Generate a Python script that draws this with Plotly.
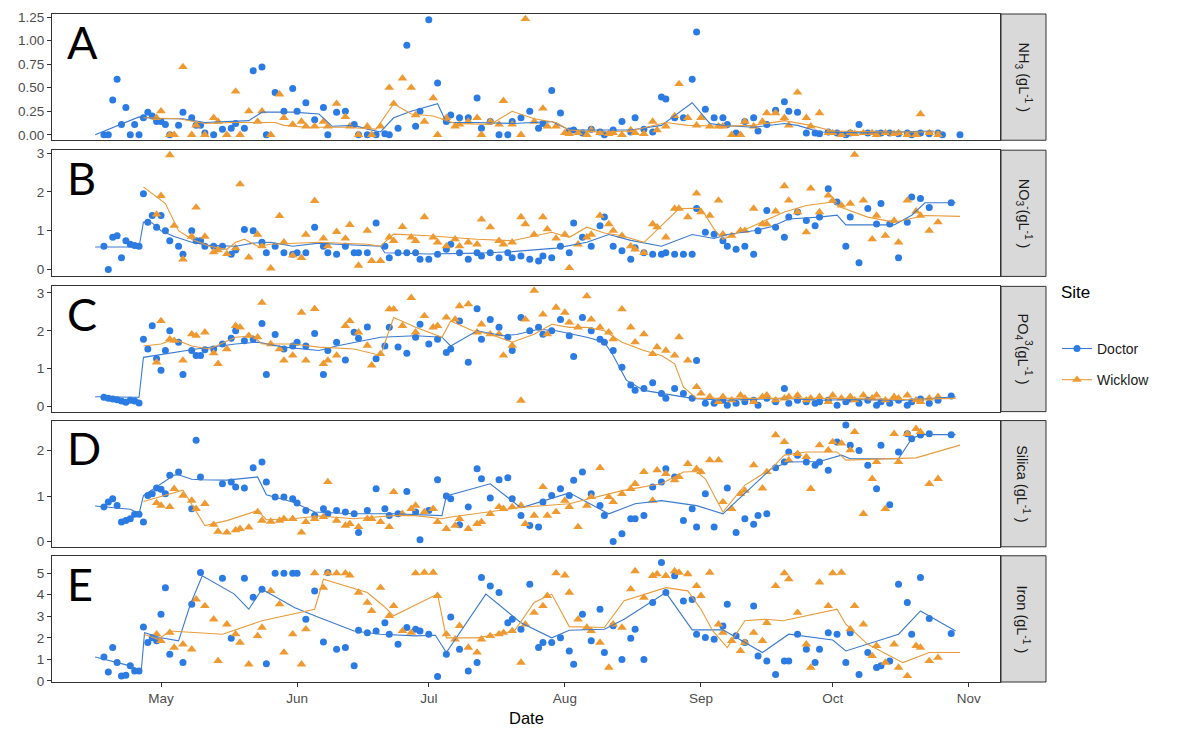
import plotly.graph_objects as go
from datetime import datetime, timedelta

BASE = datetime(2018, 5, 1)

# ---------------- sampling days (days from 1 May) ----------------
doctor_days = [
    -13, -12, -11, -10, -9, -8, -7, -6, -5, -4,
    -3, -2, -1, 0, 1, 2, 4, 5, 7, 8,
    9, 10, 12, 14, 16, 17, 19, 21, 23, 24,
    26, 28, 30, 31, 33, 35, 37, 38, 40, 42,
    44, 45, 47, 49, 51, 52, 54, 56, 58, 59,
    61, 63, 65, 66, 68, 70, 72, 73, 75, 77,
    79, 80, 82, 84, 86, 87, 89, 91, 93, 94,
    96, 98, 100, 101, 103, 105, 107, 108, 110, 112,
    114, 115, 117, 119, 121, 122, 124, 126, 128, 129,
    131, 133, 135, 136, 138, 140, 142, 143, 145, 147,
    149, 150, 152, 154, 156, 157, 159, 161, 163, 164,
    166, 168, 170, 171, 173, 175, 177, 178, 180, 182,
]
wicklow_days = [
    -4, -3, -1, 0, 2, 3, 5, 7, 8, 10,
    12, 13, 15, 17, 18, 20, 22, 23, 25, 27,
    28, 30, 32, 33, 35, 37, 38, 40, 42, 43,
    45, 47, 48, 50, 52, 53, 55, 57, 58, 60,
    62, 63, 65, 67, 68, 70, 72, 73, 75, 77,
    78, 80, 82, 83, 85, 87, 88, 90, 92, 93,
    95, 97, 98, 100, 102, 103, 105, 107, 108, 110,
    112, 113, 115, 117, 118, 120, 122, 123, 125, 127,
    128, 130, 132, 133, 135, 137, 138, 140, 142, 143,
    145, 147, 148, 150, 152, 153, 155, 157, 158, 160,
    162, 163, 165, 167, 168, 170, 172, 173, 175, 177,
]

# ---------------- NH3 ----------------
nh3_doctor = [
    0.0, 0.0, 0.37, 0.59, 0.11, 0.29, 0.0, 0.11, 0.0, 0.18,
    0.24, 0.2, 0.14, 0.14, 0.11, 0.0, 0.1, 0.24, 0.18, 0.1,
    0.1, 0.02, 0.0, 0.06, 0.07, 0.12, 0.07, 0.68, 0.72, 0.0,
    0.45, 0.25, 0.49, 0.25, 0.34, 0.16, 0.29, 0.0, 0.24, 0.25,
    0.11, 0.0, 0.0, 0.0, 0.01, 0.0, 0.07, 0.95, 0.09, 0.25,
    1.22, 0.55, 0.14, 0.21, 0.18, 0.18, 0.39, 0.07, 0.14, 0.0,
    0.0, 0.14, 0.18, 0.25, 0.07, 0.12, 0.47, 0.23, 0.04, 0.05,
    0.02, 0.06, 0.03, 0.0, 0.05, 0.14, 0.03, 0.18, 0.06, 0.03,
    0.4, 0.38, 0.18, 0.18, 0.59, 1.09, 0.27, 0.18, 0.18, 0.11,
    0.02, 0.14, 0.18, 0.04, 0.11, 0.26, 0.35, 0.25, 0.24, 0.02,
    0.02, 0.01, 0.03, 0.02, 0.0, 0.02, 0.11, 0.02, 0.01, 0.02,
    0.02, 0.01, 0.02, 0.0, 0.02, 0.01, 0.02, 0.0, None, 0.0,
]
nh3_wicklow = [
    None, None, 0.18, 0.25, 0.0, 0.0, 0.72, 0.0, 0.1, 0.0,
    0.18, 0.14, 0.0, 0.46, 0.0, 0.25, 0.14, 0.25, 0.0, 0.43,
    0.18, 0.11, 0.14, 0.09, 0.09, 0.14, 0.09, 0.33, 0.19, 0.09,
    0.0, 0.09, 0.0, 0.09, 0.5, 0.33, 0.6, 0.5, 0.21, 0.14,
    0.39, 0.0, 0.18, 0.09, 0.11, 0.14, 0.18, 0.0, 0.14, 0.11,
    0.36, 0.11, 0.0, 1.23, 0.14, 0.28, 0.09, 0.09, 0.02, 0.01,
    0.02, 0.0, 0.05, 0.02, 0.01, 0.02, 0.0, 0.05, 0.02, 0.01,
    0.14, 0.05, 0.09, 0.2, 0.54, 0.18, 0.1, 0.18, 0.09, 0.09,
    0.09, 0.0, 0.0, 0.14, 0.09, 0.14, 0.23, 0.23, 0.18, 0.1,
    0.45, 0.18, 0.09, 0.23, 0.02, 0.02, 0.0, 0.02, 0.01, 0.02,
    0.02, 0.0, 0.02, 0.01, 0.02, 0.0, 0.0, 0.22, 0.02, 0.0,
]
nh3_doctor_trend_days = [-15, -5, 0, 5, 10, 20, 21, 23, 30, 36, 39, 44, 47, 50, 53, 57, 63, 65, 72, 80,
                         89, 93, 107, 114, 121, 125, 128, 135, 142, 145, 150, 160, 176]
nh3_doctor_trend = [0.0, 0.19, 0.17, 0.17, 0.13, 0.15, 0.18, 0.24, 0.24, 0.22, 0.09, 0.1, 0.06, 0.03, 0.18,
                    0.25, 0.33, 0.13, 0.13, 0.12, 0.14, 0.05, 0.05, 0.1, 0.34, 0.12, 0.1, 0.08, 0.12, 0.1,
                    0.03, 0.02, 0.04]
nh3_wicklow_trend_days = [-4, 4, 10, 16, 21, 26, 28, 33, 42, 49, 53, 57, 62, 67, 75, 80, 85, 90, 93, 100,
                          107, 115, 120, 128, 135, 142, 148, 153, 165, 178]
nh3_wicklow_trend = [0.18, 0.17, 0.12, 0.13, 0.13, 0.13, 0.1, 0.08, 0.08, 0.06, 0.33, 0.22, 0.2, 0.12, 0.11,
                     0.25, 0.17, 0.13, 0.05, 0.03, 0.04, 0.13, 0.1, 0.09, 0.1, 0.15, 0.1, 0.04, 0.03, 0.03]

# ---------------- NO3 ----------------
no3_doctor = [
    0.6, 0.0, 0.83, 0.87, 0.3, 0.74, 0.65, 0.62, 0.6, 1.95,
    1.22, 1.39, 1.09, 1.39, 1.0, 0.74, 0.6, 0.39, 1.0, 0.74,
    0.74, 0.6, 0.6, 0.6, 0.39, 0.5, 1.03, 1.0, 0.7, 0.43,
    0.6, 0.43, 0.39, 0.43, 0.43, 1.09, 0.6, 0.43, 0.39, 0.6,
    0.43, 0.43, 0.43, 1.2, 0.6, 0.3, 0.43, 0.43, 0.43, 0.26,
    0.26, 0.39, 0.52, 0.65, 0.43, 0.26, 0.43, 0.35, 0.43, 0.3,
    0.43, 0.3, 0.35, 0.26, 0.22, 0.35, 0.3, 0.6, 0.43, 1.2,
    0.83, 0.6, 1.13, 1.35, 0.6, 0.48, 0.26, 0.56, 0.43, 0.39,
    0.39, 0.43, 0.39, 0.39, 0.39, 1.57, 0.96, 0.91, 0.74, 0.6,
    0.52, 0.6, 0.39, 1.0, 1.52, 1.09, 0.83, 1.35, 1.48, 1.26,
    1.13, 1.35, 2.08, 1.74, 0.6, 1.35, 0.17, 1.57, 1.17, 1.7,
    1.17, 0.3, 1.22, 1.87, 1.83, 1.6, None, None, 1.72, None,
]
no3_wicklow = [
    None, None, 1.42, 1.9, 2.95, 1.13, 0.26, 0.85, 1.6, 0.85,
    0.45, 0.5, 0.4, 0.55, 2.2, 0.31, 0.9, 0.6, 0.03, 1.38,
    0.7, 0.36, 0.3, 0.9, 1.77, 0.8, 0.6, 0.97, 0.8, 1.15,
    0.1, 1.0, 0.22, 0.22, 0.83, 0.74, 1.1, 0.83, 0.74, 1.35,
    0.83, 0.7, 0.6, 0.78, 0.6, 0.7, 0.65, 1.29, 1.09, 0.74,
    0.65, 0.7, 1.35, 1.17, 0.9, 1.35, 1.04, 0.8, 0.9, 0.04,
    0.65, 0.83, 0.9, 1.39, 1.17, 1.0, 0.87, 0.6, 0.52, 0.43,
    1.17, 1.09, 0.83, 1.57, 1.57, 1.35, 1.96, 1.48, 1.39, 1.78,
    0.91, 0.87, 1.0, 1.0, 1.57, 1.17, 1.17, 1.5, 2.15, 1.78,
    1.48, 0.96, 2.09, 1.48, 1.91, 1.78, 1.65, 1.7, 2.96, 1.78,
    0.78, 1.39, 0.87, 1.26, 0.7, 1.78, 1.5, 1.39, 1.0, 1.22,
]
no3_doctor_trend_days = [-15, -5, -4, -2, 0, 3, 7, 11, 17, 21, 25, 30, 36, 40, 50, 51, 61, 72, 80, 90,
                         97, 102, 107, 114, 121, 126, 129, 135, 139, 143, 150, 154, 156, 167, 171, 174, 181]
no3_doctor_trend = [0.58, 0.58, 1.22, 1.2, 1.0, 0.85, 0.7, 0.62, 0.6, 0.68, 0.7, 0.6, 0.68, 0.65, 0.6,
                    0.43, 0.4, 0.42, 0.46, 0.55, 0.7, 0.9, 0.75, 0.6, 0.9, 0.8, 0.9, 1.0, 1.1, 1.3,
                    1.35, 1.4, 1.15, 1.15, 1.4, 1.72, 1.72]
no3_wicklow_trend_days = [-4, 1, 4, 7, 11, 15, 17, 19, 22, 25, 36, 47, 50, 53, 61, 72, 80, 85, 89, 93,
                          97, 101, 105, 110, 112, 118, 123, 126, 128, 135, 142, 147, 153, 155, 161, 167, 174, 182]
no3_wicklow_trend = [2.13, 1.7, 1.0, 0.78, 0.6, 0.52, 0.7, 0.78, 0.6, 0.65, 0.7, 0.65, 0.6, 0.91, 0.87,
                     0.78, 0.74, 0.87, 0.96, 0.83, 1.09, 0.94, 0.87, 0.7, 0.91, 1.57, 1.58, 1.04, 0.78,
                     1.13, 1.48, 1.65, 1.74, 1.6, 1.35, 1.22, 1.39, 1.37]

# ---------------- PO4 ----------------
po4_doctor = [
    0.25, 0.22, 0.2, 0.18, 0.15, 0.12, 0.17, 0.15, 0.1, 1.78,
    1.52, 2.13, 1.26, 0.96, 1.48, 2.0, 1.7, 0.85, 1.48, 1.35,
    1.35, 1.5, 1.52, 1.65, 1.8, 2.0, 1.74, 1.78, 2.19, 0.85,
    1.9, 1.52, 1.6, 1.7, 1.6, 1.93, 0.85, 1.48, 1.7, 1.23,
    1.96, 1.8, 2.1, 1.26, 1.6, 2.09, 1.57, 1.41, 1.83, 2.17,
    1.65, 1.78, 1.43, 1.52, 2.26, 1.17, 2.58, 1.78, 2.3, 2.09,
    1.83, 1.48, 2.35, 2.0, 2.09, 1.91, 2.0, 2.3, 1.87, 1.32,
    2.35, 2.0, 1.78, 1.7, 1.48, 1.04, 0.57, 0.43, 0.48, 0.63,
    0.35, 0.22, 0.48, 0.35, 0.22, 1.22, 0.09, 0.09, 0.17, 0.04,
    0.09, 0.13, 0.17, 0.04, 0.22, 0.13, 0.48, 0.09, 0.17, 0.13,
    0.09, 0.13, 0.17, 0.04, 0.13, 0.2, 0.09, 0.17, 0.04, 0.13,
    0.09, 0.17, 0.04, 0.13, 0.2, 0.09, 0.17, None, 0.28, None,
]
po4_wicklow = [
    None, None, 1.17, 2.26, 1.78, 1.74, 1.22, 1.91, 1.87, 1.96,
    1.41, 1.13, 1.52, 2.13, 2.09, 1.87, 1.83, 2.74, 1.65, 1.52,
    1.22, 1.35, 2.48, 1.22, 2.58, 1.13, 1.22, 1.35, 2.13, 2.26,
    1.96, 1.61, 1.09, 1.39, 2.57, 2.57, 2.13, 2.87, 1.96, 2.39,
    2.09, 2.13, 2.35, 2.3, 2.65, 2.7, 1.96, 2.17, 1.91, 1.91,
    1.35, 1.61, 0.16, 2.3, 3.06, 2.43, 1.91, 2.61, 2.48, 2.22,
    2.09, 2.91, 2.3, 2.09, 1.96, 1.78, 2.57, 2.09, 1.7, 1.91,
    1.39, 1.57, 1.48, 1.35, 1.83, 1.22, 0.52, 0.35, 0.26, 0.13,
    0.26, 0.17, 0.3, 0.22, 0.13, 0.26, 0.3, 0.17, 0.22, 0.26,
    0.3, 0.17, 0.22, 0.26, 0.13, 0.3, 0.22, 0.26, 0.17, 0.3,
    0.22, 0.3, 0.17, 0.26, 0.22, 0.3, 0.17, 0.13, 0.22, 0.26,
]
po4_doctor_trend_days = [-15, -5, -4, 1, 8, 17, 22, 28, 36, 40, 50, 58, 64, 66, 72, 78, 81, 86, 90, 97,
                         101, 103, 106, 110, 114, 121, 128, 142, 150, 158, 169, 181]
po4_doctor_trend = [0.26, 0.25, 1.3, 1.39, 1.52, 1.65, 1.7, 1.57, 1.48, 1.6, 1.83, 1.87, 1.83, 1.6, 2.0,
                    1.87, 1.9, 2.04, 2.0, 1.83, 1.7, 1.35, 0.7, 0.43, 0.35, 0.22, 0.17, 0.22, 0.17, 0.19,
                    0.17, 0.26]
po4_wicklow_trend_days = [-4, 0, 3, 7, 11, 17, 21, 23, 30, 36, 44, 50, 53, 58, 64, 66, 71, 75, 80, 85,
                          89, 93, 97, 101, 105, 110, 114, 117, 119, 122, 128, 142, 155, 169, 181]
po4_wicklow_trend = [1.6, 1.65, 1.78, 1.6, 1.52, 1.83, 1.87, 1.65, 1.65, 1.57, 1.52, 1.35, 2.35, 2.09,
                     1.83, 2.26, 2.0, 1.91, 1.7, 1.91, 2.17, 2.09, 2.09, 2.0, 1.7, 1.48, 1.35, 1.13,
                     0.52, 0.22, 0.22, 0.22, 0.22, 0.19, 0.22]

# ---------------- Silica ----------------
silica_doctor = [
    0.76, 0.87, 0.94, 0.79, 0.43, 0.46, 0.5, 0.6, 0.6, 0.43,
    1.01, 1.05, 1.18, 1.15, 1.05, 1.46, 1.53, None, 0.72, 2.23,
    1.42, None, None, 1.27, 1.31, 1.2, 1.18, 1.62, 1.75, 1.31,
    0.98, 0.98, 0.94, 0.85, 0.68, 0.57, 0.72, 0.61, 0.68, 0.65,
    0.61, 0.2, 0.68, 1.16, 0.72, 0.57, 0.61, 1.1, 0.65, 0.04,
    0.68, 1.36, 1.0, 0.94, 0.37, 0.76, 1.6, 1.38, 0.96, 1.36,
    1.4, 0.94, 0.57, 0.35, 0.32, 0.87, 1.01, 1.16, 1.01, 1.35,
    1.53, 1.05, 0.79, 0.57, 0.0, 0.17, 0.5, 0.5, 0.57, 1.2,
    1.31, 1.6, 1.42, 0.46, 0.72, 0.32, 1.05, 0.32, None, 1.18,
    0.2, 0.5, 0.38, 0.57, 0.61, 1.62, 1.75, 1.97, 1.9, 1.75,
    1.68, 1.75, 1.57, 2.19, 2.56, 2.12, 2.0, 1.68, 1.16, 2.12,
    0.81, 1.97, 2.37, 2.26, 2.34, 2.37, None, None, 2.35, None,
]
silica_wicklow = [
    None, None, 0.85, 0.79, 0.76, 1.16, 1.01, 0.9, 0.72, 0.83,
    0.37, 0.22, 0.2, 0.25, 0.28, 0.31, 0.65, 0.46, 0.44, 0.46,
    0.5, 0.5, 0.2, 0.43, 0.5, 0.54, 1.31, 0.46, 0.35, 0.39,
    0.32, 0.5, 0.5, 0.43, 0.32, 1.09, 0.61, 0.72, 0.79, 0.65,
    0.72, 0.43, 0.28, 0.35, 0.5, 0.28, 0.39, 0.43, 0.61, 0.76,
    0.72, 0.76, 0.79, 0.39, 0.57, 1.2, 0.57, 0.65, 0.9, 0.76,
    0.32, 0.79, 0.98, 1.62, 0.98, 0.87, 1.05, 1.16, 1.27, 1.53,
    0.9, 1.57, 1.49, 1.35, 1.42, 1.71, 1.6, 1.53, 1.79, 1.79,
    0.87, 0.72, 1.05, 1.12, 1.68, 1.17, 1.53, 2.34, 2.19, 1.79,
    1.93, 1.86, 1.16, 2.12, 2.01, 2.19, 2.16, 2.01, 2.41, 0.61,
    1.38, 1.75, 0.72, 2.37, 1.75, 2.37, 2.48, 2.41, 1.27, 1.38,
]
silica_doctor_trend_days = [-15, -7, -5, -4, 3, 4, 7, 9, 15, 22, 24, 30, 35, 44, 53, 64, 65, 75, 82, 93,
                            102, 108, 114, 122, 128, 133, 139, 143, 150, 155, 157, 168, 171, 173, 181]
silica_doctor_trend = [0.78, 0.71, 0.61, 1.01, 1.46, 1.47, 1.37, 1.36, 1.35, 1.42, 1.03, 0.87, 0.65, 0.61,
                       0.61, 0.57, 1.0, 1.27, 0.74, 1.07, 0.61, 0.83, 0.9, 0.79, 0.61, 1.05, 1.6, 1.75,
                       1.76, 1.9, 1.82, 1.82, 2.26, 2.35, 2.35]
silica_wicklow_trend_days = [-4, 2, 5, 10, 15, 22, 24, 30, 36, 44, 53, 58, 64, 66, 75, 83, 93, 99, 105, 114,
                             119, 122, 124, 128, 133, 139, 142, 147, 154, 156, 172, 182]
silica_wicklow_trend = [0.88, 1.05, 1.13, 0.35, 0.46, 0.68, 0.48, 0.5, 0.56, 0.5, 0.57, 0.57, 0.5, 0.54,
                        0.65, 0.76, 0.83, 0.98, 1.12, 1.27, 1.53, 1.54, 1.38, 0.65, 1.24, 1.6, 1.9, 1.97,
                        1.97, 1.79, 1.84, 2.12]

# ---------------- Iron ----------------
iron_doctor = [
    1.11, 0.42, 1.55, 0.85, 0.23, 0.26, 0.7, 0.46, 0.46, 2.5,
    1.78, 2.0, 1.86, 3.1, 4.33, 1.24, None, 0.85, 3.56, None,
    5.03, None, None, 4.77, 1.98, None, 4.77, 3.88, 4.26, 0.8,
    5.0, 5.0, 5.0, 5.0, 2.86, 4.18, 1.81, 5.03, 1.47, 1.55,
    0.7, 2.35, 2.24, 2.32, 2.7, 2.17, 1.7, 2.48, 2.4, 2.32,
    2.17, 0.2, 1.24, 2.97, 1.47, 0.46, 0.85, 4.8, 4.41, 4.1,
    2.7, 2.86, 2.4, 4.49, 1.55, 1.78, 1.78, 2.0, 1.39, 0.77,
    3.1, 1.86, 3.33, 1.32, 2.56, 1.0, 1.98, 2.4, 1.0, 3.64,
    5.5, 4.1, 4.88, 3.71, 3.78, 2.17, 2.01, 1.93, 2.55, 3.56,
    2.1, 1.78, 3.48, 1.16, 0.93, 0.3, 0.93, 0.93, 2.17, 1.47,
    0.85, 1.47, 2.24, 2.17, 0.85, 2.24, 0.3, 1.32, 0.62, 0.7,
    0.93, 4.49, 3.64, 2.17, 4.8, 2.9, None, None, 2.2, None,
]
iron_wicklow = [
    None, None, 2.17, 1.86, 2.24, 1.55, 1.7, 1.47, 3.79, 3.48,
    2.86, 0.93, 2.63, 2.17, 1.78, 0.77, 2.09, 2.48, 4.18, 3.56,
    1.32, 2.17, 0.77, 2.4, 5.0, 4.33, 5.0, 5.0, 5.0, 4.9,
    4.1, 3.64, 3.25, 4.33, 3.02, 3.48, 2.32, 2.24, 5.0, 5.03,
    5.03, 3.95, 2.17, 1.93, 2.56, 1.55, 1.32, 1.93, 2.09, 2.17,
    2.24, 2.32, 0.85, 2.63, 3.17, 3.48, 3.95, 5.0, 4.9, 4.1,
    2.86, 2.48, 2.32, 1.78, 0.62, 2.63, 2.48, 4.26, 5.1, 3.87,
    4.88, 4.96, 4.88, 5.1, 5.03, 4.96, 4.41, 3.95, 5.03, 2.63,
    2.24, 1.86, 1.39, 1.78, 2.24, 1.86, 2.7, 4.41, 5.0, 4.72,
    3.17, 1.7, 0.62, 4.57, 3.48, 5.0, 5.03, 2.4, 3.48, 2.63,
    1.16, 1.63, 0.85, 1.7, 0.62, 0.23, 1.63, 1.55, 0.93, 1.08,
]
iron_doctor_trend_days = [-15, -7, -4.5, -3.75, 0, 4, 6.7, 9.4, 16.7, 20, 23, 30.5, 36, 44, 50, 58, 62.5,
                          65, 74, 82, 89, 93, 101, 105.5, 115, 121, 128, 137, 143, 153, 156, 164, 168, 173, 181]
iron_doctor_trend = [1.11, 0.7, 0.46, 2.24, 2.0, 1.86, 3.56, 4.88, 4.03, 3.33, 4.26, 3.4, 2.94, 2.32, 2.17,
                     2.09, 2.12, 1.32, 4.03, 2.7, 2.0, 2.35, 2.4, 2.86, 4.1, 2.37, 2.37, 1.32, 2.17, 1.9,
                     1.39, 1.93, 2.17, 3.25, 2.32]
iron_wicklow_trend_days = [-3.9, -0.7, 2, 8, 14, 23, 35, 37, 47, 50.7, 53, 63, 65, 72, 80.5, 85, 89, 93, 101,
                           105.5, 115, 120, 123, 125.7, 129, 133, 137.5, 141.7, 154, 156, 161, 169, 175, 182]
iron_wicklow_trend = [2.17, 1.93, 2.32, 2.24, 2.17, 2.79, 3.33, 4.72, 4.1, 3.48, 3.02, 4.03, 2.0, 2.0, 2.32,
                      3.64, 4.03, 2.52, 2.48, 3.72, 4.33, 4.18, 3.33, 2.32, 1.55, 2.79, 2.86, 2.79, 3.33,
                      2.63, 1.7, 0.85, 1.32, 1.32]

panel_letters = ["A", "B", "C", "D", "E"]
strip_labels = [
    "NH<sub>3</sub> (gL<sup>-1</sup> )",
    "NO<sub>3</sub><sup>-</sup>(gL<sup>-1</sup> )",
    "PO<sub>4</sub><sup>3</sup>(gL<sup>-1</sup> )",
    "Silica (gL<sup>-1</sup> )",
    "Iron (gL<sup>-1</sup> )",
]
month_ticks = ["2018-05-01", "2018-06-01", "2018-07-01", "2018-08-01", "2018-09-01", "2018-10-01", "2018-11-01"]
month_labels = ["May", "Jun", "Jul", "Aug", "Sep", "Oct", "Nov"]

panels = [
    (nh3_doctor, nh3_wicklow, nh3_doctor_trend_days, nh3_doctor_trend, nh3_wicklow_trend_days, nh3_wicklow_trend),
    (no3_doctor, no3_wicklow, no3_doctor_trend_days, no3_doctor_trend, no3_wicklow_trend_days, no3_wicklow_trend),
    (po4_doctor, po4_wicklow, po4_doctor_trend_days, po4_doctor_trend, po4_wicklow_trend_days, po4_wicklow_trend),
    (silica_doctor, silica_wicklow, silica_doctor_trend_days, silica_doctor_trend, silica_wicklow_trend_days, silica_wicklow_trend),
    (iron_doctor, iron_wicklow, iron_doctor_trend_days, iron_doctor_trend, iron_wicklow_trend_days, iron_wicklow_trend),
]

# ---------------- styling ----------------
BLUE = "#2B7BE4"
BLUE_LINE = "#3A7BD0"
ORANGE = "#EE9A31"
ORANGE_LINE = "#E89B3A"
FONT = "Liberation Sans, Arial, sans-serif"

y_ranges = [[-0.058, 1.282], [-0.18, 3.077], [-0.13, 3.17], [-0.116, 2.66], [-0.05, 5.81]]
y_ticks = [[0, 0.25, 0.5, 0.75, 1.0, 1.25], [0, 1, 2, 3], [0, 1, 2, 3], [0, 1, 2], [0, 1, 2, 3, 4, 5]]
y_fmt = [".2f", "d", "d", "d", "d"]

# plot area in pixels: left 52, right 1000, top 10, bottom 682
W, H = 1183, 736
ML, MR, MT, MB = 52, 183, 10, 54
plot_h = H - MT - MB
plot_w = W - ML - MR
panel_px = [(10, 137), (147, 274), (284, 410), (419, 546), (555, 682)]


def to_dates(days):
    return [BASE + timedelta(days=d) for d in days]


def paper_y(py):
    return (H - MB - py) / plot_h


def paper_x(px):
    return (px - ML) / plot_w


fig = go.Figure()
layout = dict()
annotations = []
shapes = []

x_range = [BASE + timedelta(days=-(161 - 52) / 4.39), BASE + timedelta(days=(1000 - 161) / 4.39)]

for i, (doc, wic, dtd, dtv, wtd, wtv) in enumerate(panels):
    n = i + 1
    xa = "x" if n == 1 else f"x{n}"
    ya = "y" if n == 1 else f"y{n}"
    xkey = "xaxis" if n == 1 else f"xaxis{n}"
    ykey = "yaxis" if n == 1 else f"yaxis{n}"

    fig.add_trace(go.Scatter(x=to_dates(doctor_days), y=doc, mode="markers", xaxis=xa, yaxis=ya,
                             marker=dict(color=BLUE, size=7, symbol="circle"), showlegend=False,
                             hoverinfo="skip"))
    fig.add_trace(go.Scatter(x=to_dates(wicklow_days), y=wic, mode="markers", xaxis=xa, yaxis=ya,
                             marker=dict(color=ORANGE, size=8.5, symbol="triangle-up"), showlegend=False,
                             hoverinfo="skip"))
    fig.add_trace(go.Scatter(x=to_dates(dtd), y=dtv, mode="lines", xaxis=xa, yaxis=ya,
                             line=dict(color=BLUE_LINE, width=1.1), showlegend=False, hoverinfo="skip"))
    fig.add_trace(go.Scatter(x=to_dates(wtd), y=wtv, mode="lines", xaxis=xa, yaxis=ya,
                             line=dict(color=ORANGE_LINE, width=1.1), showlegend=False, hoverinfo="skip"))

    top_px, bot_px = panel_px[i]
    layout[ykey] = dict(
        domain=[paper_y(bot_px), paper_y(top_px)], anchor=xa, range=y_ranges[i],
        tickvals=y_ticks[i], tickformat=y_fmt[i], ticks="outside", ticklen=4, tickwidth=1,
        tickcolor="#333333", showgrid=False, zeroline=False, showline=True, mirror=True,
        linecolor="#333333", linewidth=1, tickfont=dict(family=FONT, size=13.5, color="#4d4d4d"),
    )
    xdict = dict(
        domain=[0, 1], anchor=ya, range=x_range, type="date", showgrid=False, zeroline=False,
        showline=True, mirror=True, linecolor="#333333", linewidth=1,
    )
    if n != 1:
        xdict["matches"] = "x"
    if n == 5:
        xdict.update(tickvals=month_ticks, ticktext=month_labels, ticks="outside", ticklen=4,
                     tickwidth=1, tickcolor="#333333",
                     tickfont=dict(family=FONT, size=13.5, color="#4d4d4d"))
    else:
        xdict.update(showticklabels=False, ticks="")
    layout[xkey] = xdict

    # strip on the right
    shapes.append(dict(type="rect", xref="paper", yref=f"{ya} domain",
                       x0=paper_x(1001), x1=paper_x(1046), y0=0, y1=1,
                       fillcolor="#d9d9d9", line=dict(color="#333333", width=1), layer="above"))
    annotations.append(dict(xref="paper", yref=f"{ya} domain", x=paper_x(1023.5), y=0.5,
                            text=strip_labels[i], textangle=90, showarrow=False,
                            font=dict(family=FONT, size=14.5, color="#1a1a1a"),
                            xanchor="center", yanchor="middle"))
    # big panel letter
    annotations.append(dict(xref="paper", yref=f"{ya} domain", x=paper_x(65), y=1 - 28 / 127,
                            text=panel_letters[i], showarrow=False, xanchor="left", yanchor="middle",
                            font=dict(family="Lato, Liberation Sans, sans-serif", size=45, color="#000000")))

# legend-only entries
fig.add_trace(go.Scatter(x=[None], y=[None], mode="lines+markers", name="Doctor", legendgroup="d",
                         marker=dict(color=BLUE, size=7, symbol="circle"),
                         line=dict(color=BLUE_LINE, width=1.1)))
fig.add_trace(go.Scatter(x=[None], y=[None], mode="lines+markers", name="Wicklow", legendgroup="w",
                         marker=dict(color=ORANGE, size=8.5, symbol="triangle-up"),
                         line=dict(color=ORANGE_LINE, width=1.1)))

annotations.append(dict(xref="paper", yref="paper", x=paper_x(1059), y=paper_y(290), text="Site",
                        showarrow=False, xanchor="left", yanchor="middle",
                        font=dict(family=FONT, size=17, color="#000000")))
annotations.append(dict(xref="paper", yref="paper", x=0.5, y=paper_y(718), text="Date",
                        showarrow=False, xanchor="center", yanchor="middle",
                        font=dict(family=FONT, size=16.5, color="#000000")))

fig.update_layout(
    width=W, height=H,
    margin=dict(l=ML, r=MR, t=MT, b=MB),
    paper_bgcolor="white", plot_bgcolor="white",
    showlegend=True,
    legend=dict(x=paper_x(1057), y=paper_y(362.5), xanchor="left", yanchor="middle",
                font=dict(family=FONT, size=14, color="#1a1a1a"), tracegroupgap=10,
                itemwidth=30, bgcolor="rgba(0,0,0,0)"),
    annotations=annotations, shapes=shapes,
    **layout,
)

fig.write_html("out.html")
